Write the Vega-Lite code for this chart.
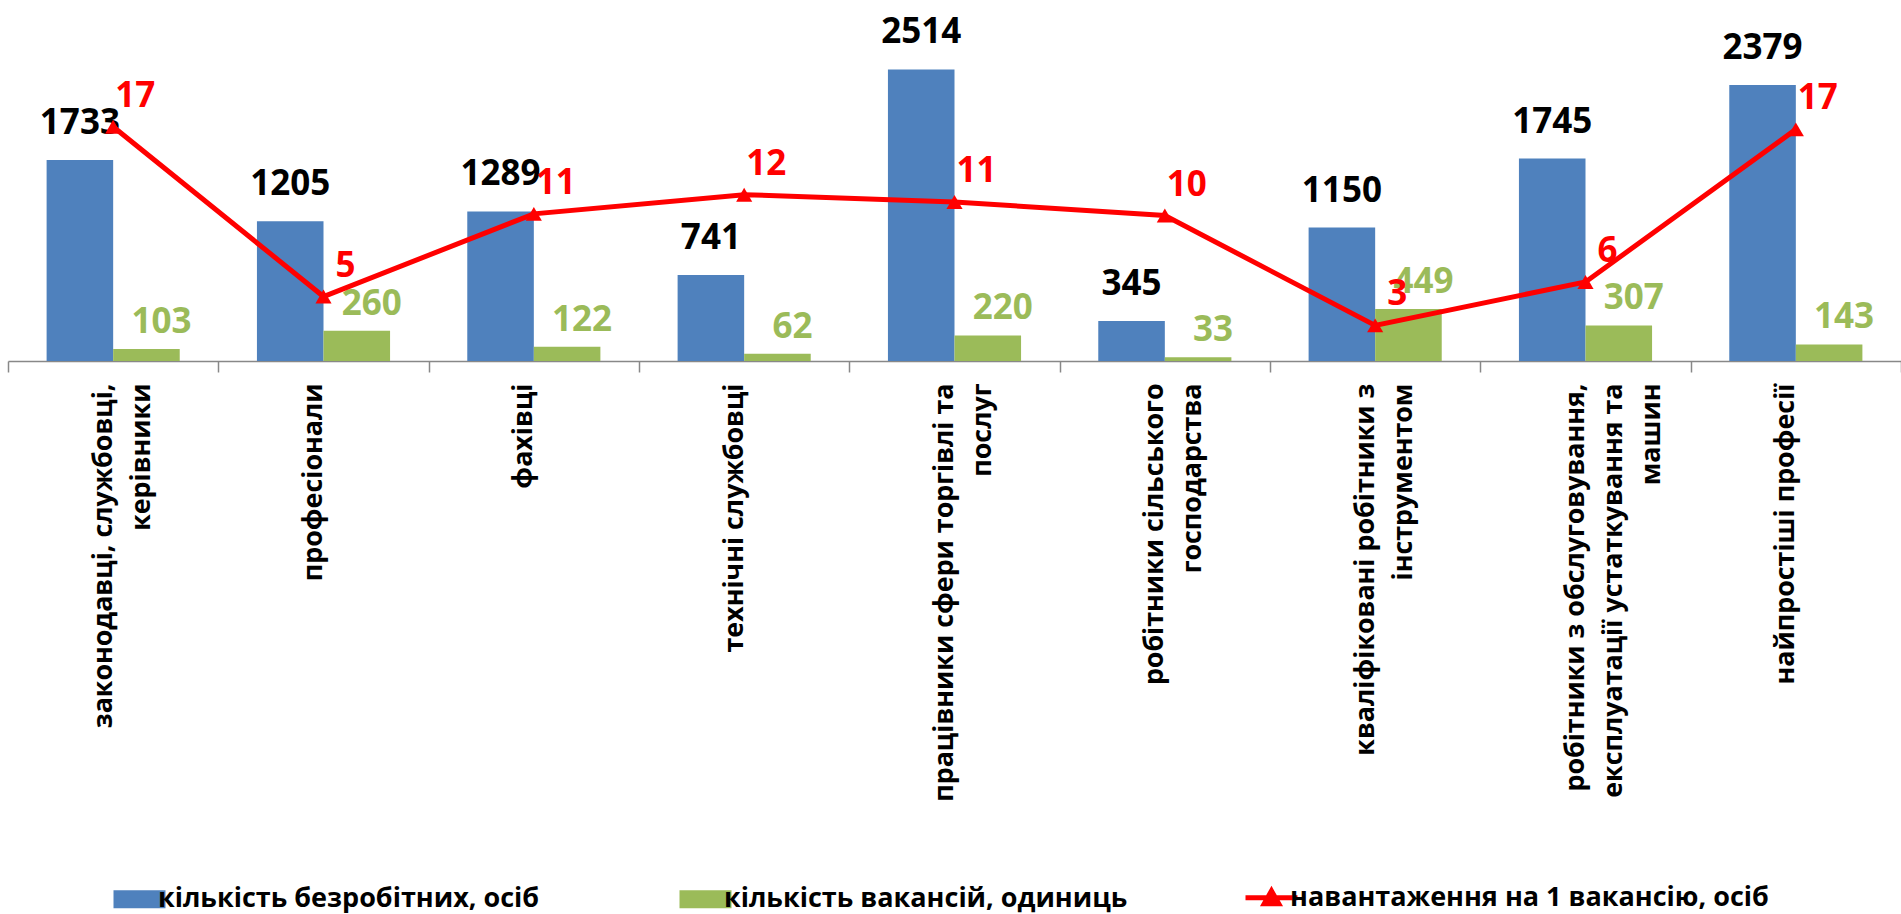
{
  "$schema": "https://vega.github.io/schema/vega-lite/v6.json",
  "width": 1893,
  "height": 348,
  "autosize": {"type": "none"},
  "padding": {"left": 8, "top": 13, "right": 0, "bottom": 553},
  "background": "white",
  "config": {"view": {"stroke": null}, "font": "Open Sans"},
  "datasets": {
    "bars": [
      {"cat": "законодавці,  службовці,\nкерівники", "series": "кількість безробітних,  осіб", "value": 1733},
      {"cat": "професіонали", "series": "кількість безробітних,  осіб", "value": 1205},
      {"cat": "фахівці", "series": "кількість безробітних,  осіб", "value": 1289},
      {"cat": "технічні службовці", "series": "кількість безробітних,  осіб", "value": 741},
      {"cat": "працівники сфери торгівлі та\nпослуг", "series": "кількість безробітних,  осіб", "value": 2514},
      {"cat": "робітники сільського\nгосподарства", "series": "кількість безробітних,  осіб", "value": 345},
      {"cat": "кваліфіковані робітники з\nінструментом", "series": "кількість безробітних,  осіб", "value": 1150},
      {"cat": "робітники з обслуговування,\nексплуатації устаткування та\nмашин", "series": "кількість безробітних,  осіб", "value": 1745},
      {"cat": "найпростіші професії", "series": "кількість безробітних,  осіб", "value": 2379},
      {"cat": "законодавці,  службовці,\nкерівники", "series": "кількість вакансій, одиниць", "value": 103},
      {"cat": "професіонали", "series": "кількість вакансій, одиниць", "value": 260},
      {"cat": "фахівці", "series": "кількість вакансій, одиниць", "value": 122},
      {"cat": "технічні службовці", "series": "кількість вакансій, одиниць", "value": 62},
      {"cat": "працівники сфери торгівлі та\nпослуг", "series": "кількість вакансій, одиниць", "value": 220},
      {"cat": "робітники сільського\nгосподарства", "series": "кількість вакансій, одиниць", "value": 33},
      {"cat": "кваліфіковані робітники з\nінструментом", "series": "кількість вакансій, одиниць", "value": 449},
      {"cat": "робітники з обслуговування,\nексплуатації устаткування та\nмашин", "series": "кількість вакансій, одиниць", "value": 307},
      {"cat": "найпростіші професії", "series": "кількість вакансій, одиниць", "value": 143}
    ],
    "load": [
      {"cat": "законодавці,  службовці,\nкерівники", "load": 16.83},
      {"cat": "професіонали", "load": 4.63},
      {"cat": "фахівці", "load": 10.57},
      {"cat": "технічні службовці", "load": 11.95},
      {"cat": "працівники сфери торгівлі та\nпослуг", "load": 11.43},
      {"cat": "робітники сільського\nгосподарства", "load": 10.45},
      {"cat": "кваліфіковані робітники з\nінструментом", "load": 2.56},
      {"cat": "робітники з обслуговування,\nексплуатації устаткування та\nмашин", "load": 5.68},
      {"cat": "найпростіші професії", "load": 16.64}
    ]
  },
  "encoding": {
    "x": {
      "field": "cat",
      "type": "nominal",
      "title": null,
      "scale": {
        "domain": [
          "законодавці,  службовці,\nкерівники",
          "професіонали",
          "фахівці",
          "технічні службовці",
          "працівники сфери торгівлі та\nпослуг",
          "робітники сільського\nгосподарства",
          "кваліфіковані робітники з\nінструментом",
          "робітники з обслуговування,\nексплуатації устаткування та\nмашин",
          "найпростіші професії"
        ],
        "paddingInner": 0,
        "paddingOuter": 0
      },
      "axis": {
        "labelAngle": -90,
        "labelExpr": "split(datum.label, '\\n')",
        "labelFont": "Open Sans",
        "labelFontWeight": "bold",
        "labelFontSize": 26.8,
        "labelColor": "#000000",
        "labelLineHeight": 38,
        "labelOffset": -10,
        "labelPadding": 11,
        "labelLimit": 800,
        "labelOverlap": false,
        "tickBand": "extent",
        "tickSize": 11,
        "tickColor": "#888888",
        "tickWidth": 1.5,
        "domainColor": "#888888",
        "domainWidth": 1.5,
        "grid": false
      }
    }
  },
  "layer": [
    {
      "data": {"name": "bars"},
      "mark": {"type": "bar"},
      "encoding": {
        "xOffset": {"field": "series", "type": "nominal", "scale": {"domain": ["кількість безробітних,  осіб", "кількість вакансій, одиниць"], "paddingInner": 0, "paddingOuter": 0.58}},
        "y": {"field": "value", "type": "quantitative", "scale": {"domain": [0, 3000]}, "axis": null},
        "color": {
          "field": "series",
          "type": "nominal",
          "scale": {"domain": ["кількість безробітних,  осіб", "кількість вакансій, одиниць", "навантаження на 1 вакансію, осіб"], "range": ["#4F81BD", "#9BBB59", "#FF0000"]},
          "legend": {
            "title": null,
            "orient": "none",
            "legendX": 118,
            "legendY": 871,
            "direction": "horizontal",
            "columns": 3,
            "gridAlign": "all",
            "columnPadding": 32,
            "labelFont": "Open Sans",
            "labelFontSize": 27,
            "labelFontWeight": "bold",
            "labelColor": "#000000",
            "labelLimit": 800,
            "labelOffset": 5,
            "symbolSize": 2704,
            "encode": {
              "symbols": {
                "update": {
                  "shape": {"signal": "datum.value === 'навантаження на 1 вакансію, осіб' ? 'M-1,0H1M0,-0.26L0.28,0.24H-0.28Z' : 'M-1,-0.35H1V0.35H-1Z'"},
                  "fill": {"signal": "datum.value === 'кількість безробітних,  осіб' ? '#4F81BD' : datum.value === 'кількість вакансій, одиниць' ? '#9BBB59' : '#FF0000'"},
                  "stroke": {"value": "#FF0000"},
                  "strokeWidth": {"signal": "datum.value === 'навантаження на 1 вакансію, осіб' ? 5 : 0"},
                  "opacity": {"value": 1}
                }
              }
            }
          }
        }
      }
    },
    {
      "data": {"name": "bars"},
      "transform": [{"filter": "datum.series === 'кількість безробітних,  осіб'"}],
      "mark": {"type": "text", "baseline": "alphabetic", "dy": -26, "font": "Open Sans", "fontSize": 35, "fontWeight": "bold", "color": "#000000"},
      "encoding": {
        "xOffset": {"field": "series", "type": "nominal", "scale": {"domain": ["кількість безробітних,  осіб", "кількість вакансій, одиниць"], "paddingInner": 0, "paddingOuter": 0.58}},
        "y": {"field": "value", "type": "quantitative", "scale": {"domain": [0, 3000]}, "axis": null},
        "text": {"field": "value", "type": "quantitative", "format": "d"}
      }
    },
    {
      "data": {"name": "bars"},
      "transform": [{"filter": "datum.series === 'кількість вакансій, одиниць'"}],
      "mark": {"type": "text", "baseline": "alphabetic", "dx": 15, "dy": -16, "font": "Open Sans", "fontSize": 35, "fontWeight": "bold", "color": "#9BBB59"},
      "encoding": {
        "xOffset": {"field": "series", "type": "nominal", "scale": {"domain": ["кількість безробітних,  осіб", "кількість вакансій, одиниць"], "paddingInner": 0, "paddingOuter": 0.58}},
        "y": {"field": "value", "type": "quantitative", "scale": {"domain": [0, 3000]}, "axis": null},
        "text": {"field": "value", "type": "quantitative", "format": "d"}
      }
    },
    {
      "data": {"name": "load"},
      "mark": {"type": "line", "color": "#FF0000", "strokeWidth": 5},
      "encoding": {
        "y": {"field": "load", "type": "quantitative", "scale": {"domain": [0, 25]}, "axis": null}
      }
    },
    {
      "data": {"name": "load"},
      "mark": {"type": "point", "shape": "triangle-up", "filled": true, "color": "#FF0000", "size": 260, "opacity": 1},
      "encoding": {
        "y": {"field": "load", "type": "quantitative", "scale": {"domain": [0, 25]}, "axis": null}
      }
    },
    {
      "data": {"name": "load"},
      "mark": {"type": "text", "baseline": "alphabetic", "dx": 22, "dy": -20, "font": "Open Sans", "fontSize": 35, "fontWeight": "bold", "color": "#FF0000"},
      "encoding": {
        "y": {"field": "load", "type": "quantitative", "scale": {"domain": [0, 25]}, "axis": null},
        "text": {"field": "load", "type": "quantitative", "format": ".0f"}
      }
    }
  ],
  "resolve": {"scale": {"y": "independent"}}
}
